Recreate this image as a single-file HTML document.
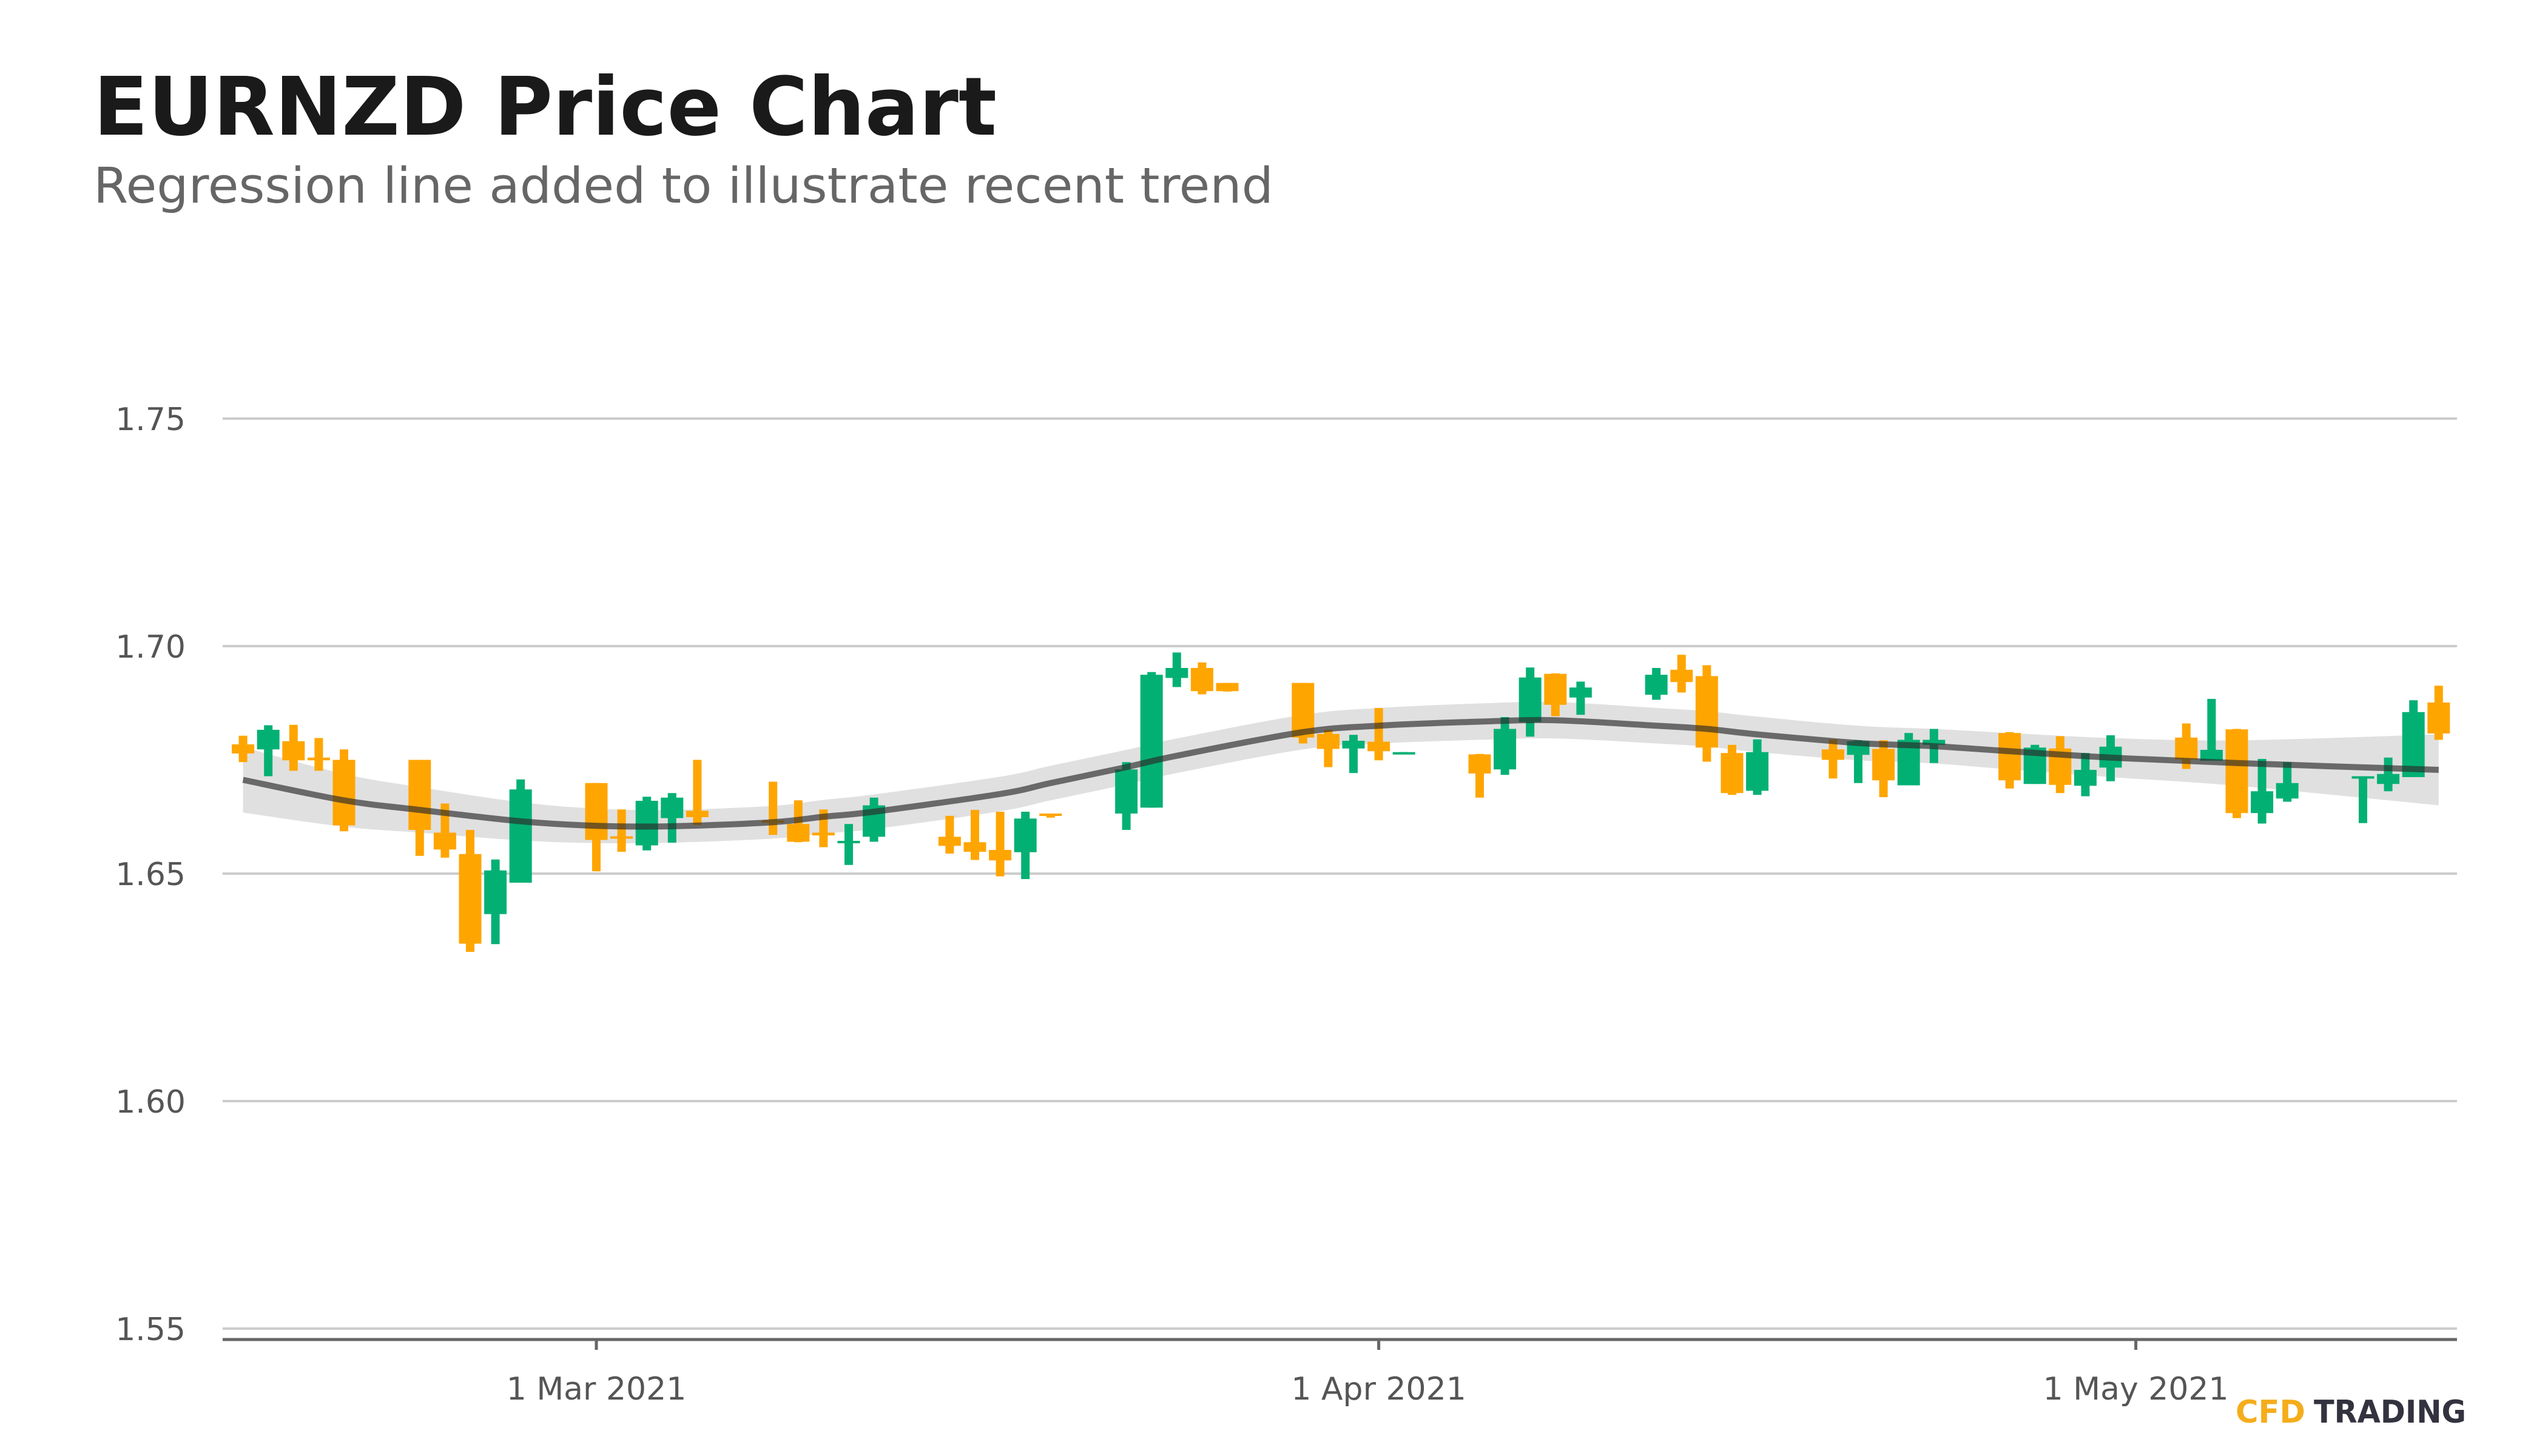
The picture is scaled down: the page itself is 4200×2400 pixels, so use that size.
<!DOCTYPE html>
<html><head><meta charset="utf-8"><style>
html,body{margin:0;padding:0;background:#fff;}
svg{display:block;font-family:"DejaVu Sans","Liberation Sans",sans-serif;}
</style></head><body>
<svg id="chart" width="4200" height="2400" viewBox="0 0 4200 2400" xmlns="http://www.w3.org/2000/svg">
<rect width="4200" height="2400" fill="#fff"/>
<text x="154" y="222" font-size="133" font-weight="bold" fill="#1a1a1a" textLength="1489" lengthAdjust="spacingAndGlyphs">EURNZD Price Chart</text>
<text x="154" y="334" font-size="81" fill="#666" textLength="1945" lengthAdjust="spacingAndGlyphs">Regression line added to illustrate recent trend</text>
<g id="grid"></g>
<g id="band"></g>
<g id="candles"></g>
<g id="reg"></g>
<g id="axes"></g>
<g>
<rect x="3675" y="2290" width="400" height="70" fill="#fff"/>
<text x="3685" y="2345" font-size="52" font-weight="bold" fill="#f5ad1b" textLength="115" lengthAdjust="spacingAndGlyphs">CFD</text>
<text x="3814" y="2345" font-size="52" font-weight="bold" fill="#33323f" textLength="251" lengthAdjust="spacingAndGlyphs">TRADING</text>
</g>
</svg>
<script>
const dates=["2021-02-15","2021-02-16","2021-02-17","2021-02-18","2021-02-19","2021-02-22","2021-02-23","2021-02-24","2021-02-25","2021-02-26","2021-03-01","2021-03-02","2021-03-03","2021-03-04","2021-03-05","2021-03-08","2021-03-09","2021-03-10","2021-03-11","2021-03-12","2021-03-15","2021-03-16","2021-03-17","2021-03-18","2021-03-19","2021-03-22","2021-03-23","2021-03-24","2021-03-25","2021-03-26","2021-03-29","2021-03-30","2021-03-31","2021-04-01","2021-04-02","2021-04-05","2021-04-06","2021-04-07","2021-04-08","2021-04-09","2021-04-12","2021-04-13","2021-04-14","2021-04-15","2021-04-16","2021-04-19","2021-04-20","2021-04-21","2021-04-22","2021-04-23","2021-04-26","2021-04-27","2021-04-28","2021-04-29","2021-04-30","2021-05-03","2021-05-04","2021-05-05","2021-05-06","2021-05-07","2021-05-10","2021-05-11","2021-05-12","2021-05-13"];
const opens=[1.6784,1.6773,1.6791,1.6755,1.6750,1.6750,1.6590,1.6543,1.6411,1.6480,1.6699,1.6582,1.6562,1.6622,1.6638,1.6617,1.6609,1.6590,1.6570,1.6581,1.6581,1.6569,1.6552,1.6547,1.6632,1.6632,1.6645,1.6930,1.6952,1.6919,1.6919,1.6807,1.6775,1.6790,1.6765,1.6762,1.6729,1.6833,1.6939,1.6887,1.6893,1.6948,1.6934,1.6765,1.6682,1.6773,1.6761,1.6774,1.6694,1.6783,1.6809,1.6697,1.6775,1.6693,1.6733,1.6799,1.6748,1.6817,1.6633,1.6665,1.6714,1.6697,1.6712,1.6876];
const highs=[1.6803,1.6826,1.6827,1.6798,1.6773,1.6750,1.6654,1.6596,1.6531,1.6707,1.6699,1.6641,1.6669,1.6677,1.6750,1.6702,1.6661,1.6641,1.6609,1.6667,1.6627,1.6640,1.6636,1.6636,1.6632,1.6745,1.6943,1.6986,1.6964,1.6919,1.6919,1.6816,1.6805,1.6864,1.6767,1.6763,1.6844,1.6953,1.6940,1.6922,1.6952,1.6981,1.6958,1.6783,1.6795,1.6795,1.6793,1.6793,1.6809,1.6818,1.6811,1.6783,1.6802,1.6765,1.6804,1.6830,1.6884,1.6818,1.6752,1.6745,1.6714,1.6755,1.6881,1.6913];
const lows=[1.6745,1.6714,1.6726,1.6726,1.6593,1.6539,1.6535,1.6328,1.6345,1.6480,1.6505,1.6548,1.6551,1.6568,1.6607,1.6585,1.6569,1.6558,1.6519,1.6570,1.6544,1.6530,1.6494,1.6488,1.6623,1.6596,1.6645,1.6910,1.6894,1.6900,1.6786,1.6734,1.6721,1.6749,1.6764,1.6667,1.6717,1.6801,1.6846,1.6849,1.6882,1.6898,1.6746,1.6673,1.6673,1.6709,1.6699,1.6668,1.6694,1.6743,1.6687,1.6697,1.6677,1.6670,1.6703,1.6730,1.6748,1.6622,1.6610,1.6658,1.6611,1.6681,1.6712,1.6794];
const closes=[1.6764,1.6816,1.6749,1.6749,1.6606,1.6596,1.6553,1.6346,1.6507,1.6685,1.6574,1.6578,1.6660,1.6667,1.6624,1.6614,1.6570,1.6584,1.6572,1.6650,1.6561,1.6548,1.6529,1.6621,1.6627,1.6729,1.6937,1.6952,1.6901,1.6901,1.6799,1.6774,1.6792,1.6769,1.6767,1.6720,1.6818,1.6931,1.6871,1.6909,1.6937,1.6921,1.6777,1.6677,1.6767,1.6750,1.6791,1.6705,1.6794,1.6794,1.6705,1.6777,1.6695,1.6728,1.6779,1.6751,1.6772,1.6633,1.6681,1.6699,1.6714,1.6719,1.6855,1.6808];
const regDates=["2021-02-15","2021-02-19","2021-02-22","2021-02-26","2021-03-01","2021-03-04","2021-03-08","2021-03-10","2021-03-12","2021-03-17","2021-03-19","2021-03-22","2021-03-24","2021-03-29","2021-04-01","2021-04-05","2021-04-08","2021-04-12","2021-04-14","2021-04-16","2021-04-20","2021-04-23","2021-04-26","2021-04-30","2021-05-05","2021-05-13"];
const regValues=[1.6706,1.6661,1.6640,1.6615,1.6605,1.6604,1.6613,1.6625,1.6636,1.6675,1.6699,1.6734,1.6759,1.6811,1.6825,1.6834,1.6837,1.6825,1.6818,1.6806,1.6787,1.6780,1.6769,1.6755,1.6743,1.6728];
const regHalf=[0.0072,0.0058,0.0050,0.0042,0.0038,0.0036,0.0036,0.0037,0.0038,0.0038,0.0038,0.0038,0.0038,0.0038,0.0039,0.0040,0.0040,0.0039,0.0039,0.0039,0.0038,0.0038,0.0040,0.0043,0.0050,0.0078];
const yTicks=[1.55,1.60,1.65,1.70,1.75];
const xTickDates=["2021-03-01","2021-04-01","2021-05-01"];
const xTickLabels=["1 Mar 2021","1 Apr 2021","1 May 2021"];

const NS="http://www.w3.org/2000/svg";
const base=Date.UTC(2021,2,1);
function dayOf(s){const p=s.split("-");return (Date.UTC(+p[0],+p[1]-1,+p[2])-base)/86400000;}
function X(s){return 983+dayOf(s)*41.6;}
function Y(v){return 1065+(1.70-v)*7500;}
function mk(tag,attrs,parent){const e=document.createElementNS(NS,tag);for(const k in attrs)e.setAttribute(k,attrs[k]);parent.appendChild(e);return e;}
const L=367,R=4050;
const grid=document.getElementById("grid");
yTicks.forEach(t=>{
  const ln=mk("line",{x1:L,x2:R,y1:Y(t),y2:Y(t),stroke:"#cccccc","stroke-width":4},grid);
  
  
  const tx=mk("text",{x:306,y:Y(t)+19,"text-anchor":"end","font-size":52,fill:"#555"},grid);
  tx.textContent=t.toFixed(2);
  
  
});
// band
function smooth(pts){let d="M"+pts[0][0]+","+pts[0][1];for(let i=0;i<pts.length-1;i++){const p0=pts[Math.max(0,i-1)],p1=pts[i],p2=pts[i+1],p3=pts[Math.min(pts.length-1,i+2)];const c1x=p1[0]+(p2[0]-p0[0])/6,c1y=p1[1]+(p2[1]-p0[1])/6,c2x=p2[0]-(p3[0]-p1[0])/6,c2y=p2[1]-(p3[1]-p1[1])/6;d+=" C"+c1x+","+c1y+" "+c2x+","+c2y+" "+p2[0]+","+p2[1];}return d;}
const up=regDates.map((d,i)=>[X(d),Y(regValues[i]+regHalf[i])]);
const dn=regDates.map((d,i)=>[X(d),Y(regValues[i]-regHalf[i])]).reverse();
const bandD=smooth(up)+" L"+dn[0][0]+","+dn[0][1]+smooth(dn).replace(/^M[^ ]+/,"")+" Z";
const band=mk("path",{d:bandD,fill:"#e0e0e0"},document.getElementById("band"));


// candles
const cg=document.getElementById("candles");
dates.forEach((d,i)=>{
  const up=closes[i]>=opens[i];const col=up?"#03b074":"#ffa500";const x=X(d);
  const w=mk("rect",{x:x-7,y:Y(highs[i]),width:14,height:Math.max(2,Y(lows[i])-Y(highs[i])),fill:col},cg);
  
  
  const top=Math.max(opens[i],closes[i]),bot=Math.min(opens[i],closes[i]);
  const b=mk("rect",{x:x-18.5,y:Y(top),width:37,height:Math.max(4,Y(bot)-Y(top)),fill:col},cg);
  
  
});
// regression
const rp=mk("path",{d:smooth(regDates.map((d,i)=>[X(d),Y(regValues[i])])),fill:"none",stroke:"#2a2a2a","stroke-width":10,opacity:0.66},document.getElementById("reg"));


// axes
const ax=document.getElementById("axes");
const al=mk("line",{x1:L,x2:R,y1:2208,y2:2208,stroke:"#666","stroke-width":5},ax);


xTickDates.forEach((d,i)=>{
  const t=mk("line",{x1:X(d),x2:X(d),y1:2208,y2:2225,stroke:"#666","stroke-width":5},ax);
  
  
  const tx=mk("text",{x:X(d),y:2307,"text-anchor":"middle","font-size":52,fill:"#555"},ax);
  tx.textContent=xTickLabels[i];
  
  
});
</script>
</body></html>
